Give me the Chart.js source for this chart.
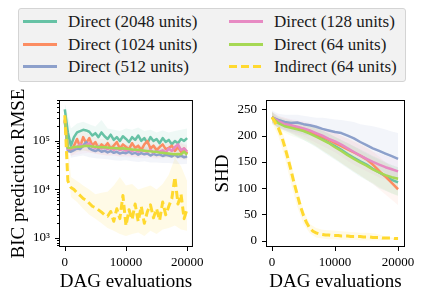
<!DOCTYPE html>
<html>
<head>
<meta charset="utf-8">
<script src="https://cdn.jsdelivr.net/npm/chart.js@4.4.0/dist/chart.umd.min.js"></script>
<style>
  body { margin: 0; width: 424px; height: 299px; background: #fff; position: relative; overflow: hidden; font-family: "Liberation Serif", serif; }
  .wrap { position: absolute; top: 80px; width: 212px; height: 219px; }
  #legend { position: absolute; left: 18px; top: 8px; width: 386px; height: 72px; background: #f2f2f2; border: 1px solid #d4d4d4; border-radius: 3px; z-index: 5; }
  .item { position: absolute; height: 22px; }
  .swatch { position: absolute; top: 9px; width: 34px; height: 3px; }
  .label { position: absolute; left: 45px; top: 0; font-size: 17px; line-height: 22px; color: #1a1a1a; white-space: nowrap; }
</style>
</head>
<body>
<div id="legend"></div>
<div class="wrap" style="left:0"><canvas id="rmse" width="212" height="219"></canvas></div>
<div class="wrap" style="left:212px"><canvas id="shd" width="212" height="219"></canvas></div>
<script>
const seriesNames = ['Direct (2048 units)', 'Direct (1024 units)', 'Direct (512 units)', 'Direct (128 units)', 'Direct (64 units)', 'Indirect (64 units)'];
const seriesColors = ['#66c2a5', '#fc8d62', '#8da0cb', '#e78ac3', '#a6d854', '#ffd92f'];
const bandColors = ['rgba(102,194,165,0.10)', 'rgba(252,141,98,0.08)', 'rgba(141,160,203,0.10)', 'rgba(231,138,195,0.08)', 'rgba(166,216,84,0.08)', 'rgba(255,217,47,0.12)'];

const evalsFine = [0,500,1000,1500,2000,2500,3000,3500,4000,4500,5000,5500,6000,6500,7000,7500,8000,8500,9000,9500,10000,10500,11000,11500,12000,12500,13000,13500,14000,14500,15000,15500,16000,16500,17000,17500,18000,18500,19000,19500,20000];
const evalsCoarse = [0,1000,2000,3000,4000,5000,6000,7000,8000,9000,10000,11000,12000,13000,14000,15000,16000,17000,18000,19000,20000];
const evalTicks = [0, 10000, 20000];
const shdTicks = [0, 50, 100, 150, 200, 250];

// BIC prediction RMSE (means, every 500 evaluations)
const rmseTeal = [450000,150000,80000,120000,150000,160000,170000,165000,155000,130000,145000,120000,150000,125000,110000,135000,105000,120000,100000,125000,110000,95000,120000,105000,130000,100000,115000,90000,120000,100000,110000,90000,115000,95000,105000,85000,100000,90000,110000,100000,115000];
const rmseOrange = [280000,70000,65000,80000,110000,75000,120000,90000,115000,80000,95000,70000,85000,75000,90000,70000,80000,95000,70000,85000,75000,68000,90000,72000,80000,65000,85000,100000,70000,80000,65000,75000,85000,68000,72000,80000,62000,75000,60000,70000,55000];
const rmseBlue = [250000,62000,60000,65000,70000,68000,80000,95000,70000,65000,62000,66000,60000,63000,58000,62000,57000,60000,55000,58000,56000,60000,54000,57000,52000,56000,53000,55000,50000,54000,51000,53000,49000,52000,50000,48000,52000,47000,50000,46000,48000];
const rmsePink = [260000,68000,70000,72000,75000,85000,78000,82000,90000,75000,72000,78000,70000,74000,68000,72000,66000,70000,65000,68000,63000,67000,62000,66000,60000,64000,62000,60000,65000,58000,62000,60000,64000,58000,70000,62000,75000,85000,65000,70000,60000];
const rmseGreen = [270000,72000,72000,74000,76000,76000,78000,80000,79000,77000,76000,75000,74000,74000,73000,72000,72000,71000,70000,71000,69000,68000,67000,66000,66000,64000,63000,62000,61000,60000,60000,58000,57000,56000,55000,54000,53000,54000,53000,60000,52000];
const rmseYellow = [340000,15000,11000,10000,8500,7500,6500,6000,5200,4500,4200,3800,3400,3000,2800,3500,2200,4000,2500,7500,1800,3800,2400,5000,2200,4500,2000,3500,4800,2600,4000,2300,5500,3000,4500,6500,18000,5000,8000,2500,4000];

// RMSE spread (every 1000 evaluations)
const rmseTealHi = [600000,180000,230000,250000,220000,200000,270000,180000,170000,160000,180000,170000,190000,160000,170000,150000,165000,150000,160000,170000,180000];
const rmseTealLo = [200000,60000,90000,100000,95000,85000,80000,75000,70000,70000,72000,68000,70000,65000,68000,65000,66000,62000,60000,65000,70000];
const rmseOrangeHi = [300000,95000,150000,160000,140000,120000,110000,115000,120000,110000,100000,115000,105000,125000,110000,100000,110000,105000,95000,90000,80000];
const rmseOrangeLo = [200000,48000,60000,65000,58000,55000,52000,50000,52000,48000,50000,48000,46000,50000,47000,45000,48000,46000,44000,42000,40000];
const rmseBlueHi = [300000,85000,95000,115000,100000,90000,85000,80000,82000,78000,80000,76000,75000,74000,72000,73000,70000,70000,72000,68000,66000];
const rmseBlueLo = [180000,45000,48000,50000,46000,44000,43000,42000,40000,39000,40000,38000,37000,38000,36000,36000,35000,35000,34000,33000,34000];
const rmsePinkHi = [300000,90000,100000,105000,115000,95000,92000,90000,88000,85000,84000,82000,80000,82000,85000,80000,84000,90000,110000,95000,85000];
const rmsePinkLo = [190000,50000,52000,55000,58000,54000,52000,50000,49000,48000,46000,46000,45000,44000,45000,43000,44000,46000,50000,46000,42000];
const rmseGreenHi = [300000,88000,92000,96000,95000,92000,90000,88000,87000,86000,84000,82000,80000,78000,76000,74000,72000,70000,68000,72000,68000];
const rmseGreenLo = [200000,58000,60000,62000,62000,61000,60000,59000,58000,57000,56000,55000,53000,52000,50000,48000,46000,45000,44000,46000,42000];
const rmseYellowHi = [450000,18000,15000,12000,10000,8000,8500,9000,12000,18000,12000,13000,10000,11000,12000,10000,13000,20000,45000,30000,15000];
const rmseYellowLo = [250000,7000,5500,4000,3000,2500,2000,1600,1400,1200,1100,1200,1300,1100,1400,1200,1500,1600,1800,1500,1400];

// SHD (means, every 1000 evaluations; indirect every 500)
const shdTeal = [235,226,222,218,214,211,206,200,194,187,180,173,165,158,151,145,137,130,123,116,111];
const shdOrange = [235,227,223,219,215,212,208,203,198,192,186,180,174,168,162,155,145,133,122,110,98];
const shdBlue = [235,230,226,224,225,222,220,217,213,210,207,205,200,195,188,182,176,171,166,161,156];
const shdPink = [235,228,222,220,217,214,210,205,200,194,189,183,176,169,162,156,150,145,140,136,132];
const shdGreen = [235,224,218,215,212,209,204,198,192,186,178,171,163,156,149,143,136,130,125,121,118];
const shdYellow = [235,225,215,200,180,158,135,110,88,66,48,34,24,18,15,13,12,11,11,10,10,10,9,9,9,8,8,8,8,7,7,7,6,6,6,5,5,5,5,4,4];

// SHD spread (every 1000 evaluations)
const shdTealHi = [245,236,232,230,226,224,220,215,210,204,198,192,186,180,174,168,162,156,150,144,140];
const shdTealLo = [225,214,210,204,198,192,185,178,170,162,154,146,138,130,122,115,108,100,95,90,85];
const shdOrangeHi = [245,237,234,230,228,226,222,218,214,210,205,200,195,190,185,178,170,160,150,140,130];
const shdOrangeLo = [225,215,210,205,200,194,188,180,172,164,156,148,140,132,124,116,108,98,88,78,68];
const shdBlueHi = [248,242,240,240,240,238,236,234,234,233,231,230,228,226,222,220,218,215,212,208,205];
const shdBlueLo = [222,216,212,208,206,202,200,196,190,186,182,178,172,165,158,150,142,135,128,120,112];
const shdPinkHi = [245,238,234,232,230,228,225,220,216,212,206,200,194,188,182,176,170,166,162,158,155];
const shdPinkLo = [225,216,210,206,202,198,192,186,180,174,168,160,152,144,138,132,126,120,116,112,108];
const shdGreenHi = [245,234,230,228,225,222,218,214,210,204,198,192,186,180,173,166,160,154,148,144,140];
const shdGreenLo = [225,212,206,200,196,192,186,180,172,164,156,148,140,132,124,116,110,102,96,90,86];
const shdYellowHi = [245,228,195,150,100,58,32,24,21,20,19,18,17,16,15,15,14,12,8,6,6];
const shdYellowLo = [225,200,160,110,65,32,14,6,4,3,3,2,2,2,1,1,1,1,2,3,3];

function pts(xs, ys) {
    return xs.map((x, i) => ({ x: x, y: ys[i] }));
}

function band(xs, hi, lo, color) {
    return [
        { data: pts(xs, hi), borderWidth: 0, pointRadius: 0, fill: false, order: 20 },
        { data: pts(xs, lo), borderWidth: 0, pointRadius: 0, fill: '-1', backgroundColor: color, order: 20 }
    ];
}

function line(xs, ys, i) {
    const ds = {
        data: pts(xs, ys),
        borderColor: seriesColors[i],
        borderWidth: 2.5,
        pointRadius: 0,
        fill: false,
        tension: 0,
        borderJoinStyle: 'round',
        order: 6 - i
    };
    if (i === 5) {
        ds.borderDash = [8, 4];
        ds.borderWidth = 3;
    }
    return ds;
}

const sup = { '0': '⁰', '1': '¹', '2': '²', '3': '³', '4': '⁴', '5': '⁵', '6': '⁶', '7': '⁷', '8': '⁸', '9': '⁹' };

// box round the axes and outward tick marks
const frame = {
    id: 'frame',
    afterDraw(chart) {
        const { ctx, chartArea: a, scales } = chart;
        ctx.save();
        ctx.strokeStyle = '#000';
        ctx.lineWidth = 1;
        ctx.strokeRect(a.left + 0.5, a.top + 0.5, a.right - a.left - 1, a.bottom - a.top - 1);
        ctx.beginPath();
        scales.x.ticks.forEach(t => {
            const px = Math.round(scales.x.getPixelForValue(t.value)) + 0.5;
            ctx.moveTo(px, a.bottom);
            ctx.lineTo(px, a.bottom + 4);
        });
        scales.y.ticks.forEach(t => {
            let len = 4;
            if (scales.y.type === 'logarithmic') {
                const e = Math.log10(t.value);
                if (Math.abs(e - Math.round(e)) > 1e-9) len = 2;
            }
            const py = Math.round(scales.y.getPixelForValue(t.value)) + 0.5;
            ctx.moveTo(a.left, py);
            ctx.lineTo(a.left - len, py);
        });
        ctx.stroke();
        ctx.restore();
    }
};

const tickFont = { family: 'Liberation Serif', size: 13 };
const titleFont = { family: 'Liberation Serif', size: 19 };

function xAxis(min, max) {
    return {
        type: 'linear',
        min: min,
        max: max,
        grid: { display: false, drawTicks: false },
        border: { display: false },
        afterBuildTicks: s => { s.ticks = evalTicks.map(v => ({ value: v })); },
        afterFit: s => { s.height = 52; },
        ticks: { font: tickFont, color: '#000', padding: 8, maxRotation: 0, autoSkip: false, callback: v => String(v) },
        title: { display: true, text: 'DAG evaluations', font: titleFont, color: '#000', padding: { top: 0, bottom: 6 } }
    };
}

function makeOptions(yScale, yWidth, rightPad, xMin, xMax) {
    yScale.afterFit = s => { s.width = yWidth; };
    return {
        responsive: false,
        animation: false,
        events: [],
        layout: { padding: { top: 20, right: rightPad, left: 0, bottom: 0 } },
        plugins: { legend: { display: false }, tooltip: { enabled: false } },
        scales: { x: xAxis(xMin, xMax), y: yScale }
    };
}

// left: RMSE
const rmseMeans = [rmseTeal, rmseOrange, rmseBlue, rmsePink, rmseGreen, rmseYellow];
const rmseBands = [[rmseTealHi, rmseTealLo], [rmseOrangeHi, rmseOrangeLo], [rmseBlueHi, rmseBlueLo], [rmsePinkHi, rmsePinkLo], [rmseGreenHi, rmseGreenLo], [rmseYellowHi, rmseYellowLo]];
const rmseSets = [];
rmseBands.forEach((b, i) => rmseSets.push(...band(evalsCoarse, b[0], b[1], bandColors[i])));
rmseMeans.forEach((m, i) => rmseSets.push(line(evalsFine, m, i)));

new Chart(document.getElementById('rmse'), {
    type: 'line',
    data: { datasets: rmseSets },
    options: makeOptions({
        type: 'logarithmic',
        min: 650,
        max: 700000,
        grid: { display: false, drawTicks: false },
        border: { display: false },
        afterBuildTicks: s => {
            s.ticks = s.ticks.filter(t => {
                const m = t.value / Math.pow(10, Math.floor(Math.log10(t.value) + 1e-9));
                return Math.abs(m - Math.round(m)) < 1e-6 && t.value >= s.min && t.value <= s.max;
            });
        },
        ticks: {
            font: tickFont, color: '#000', padding: 9, autoSkip: false,
            callback: v => {
                const e = Math.log10(v);
                if (Math.abs(e - Math.round(e)) > 1e-9) return '';
                return '10' + String(Math.round(e)).split('').map(c => sup[c]).join('');
            }
        },
        title: { display: true, text: 'BIC prediction RMSE', font: titleFont, color: '#000', padding: { top: 8, bottom: 0 } }
    }, 59, 14, -950, 20950),
    plugins: [frame]
});

// right: SHD
const shdMeans = [shdTeal, shdOrange, shdBlue, shdPink, shdGreen];
const shdBands = [[shdTealHi, shdTealLo], [shdOrangeHi, shdOrangeLo], [shdBlueHi, shdBlueLo], [shdPinkHi, shdPinkLo], [shdGreenHi, shdGreenLo], [shdYellowHi, shdYellowLo]];
const shdSets = [];
shdBands.forEach((b, i) => shdSets.push(...band(evalsCoarse, b[0], b[1], bandColors[i])));
shdMeans.forEach((m, i) => shdSets.push(line(evalsCoarse, m, i)));
shdSets.push(line(evalsFine, shdYellow, 5));

new Chart(document.getElementById('shd'), {
    type: 'line',
    data: { datasets: shdSets },
    options: makeOptions({
        type: 'linear',
        min: -12,
        max: 268,
        grid: { display: false, drawTicks: false },
        border: { display: false },
        afterBuildTicks: s => { s.ticks = shdTicks.map(v => ({ value: v })); },
        ticks: { font: tickFont, color: '#000', padding: 9, autoSkip: false },
        title: { display: true, text: 'SHD', font: titleFont, color: '#000', padding: { top: 0, bottom: 0 } }
    }, 54, 19, -950, 21100),
    plugins: [frame]
});

// legend, two columns
const legend = document.getElementById('legend');
seriesNames.forEach((name, i) => {
    const col = i < 3 ? 0 : 1;
    const row = i % 3;
    const item = document.createElement('div');
    item.className = 'item';
    item.style.left = (col === 0 ? 4 : 210) + 'px';
    item.style.top = (2 + row * 22.5) + 'px';

    const sw = document.createElement('div');
    sw.className = 'swatch';
    if (i === 5) {
        sw.style.background = `repeating-linear-gradient(to right, ${seriesColors[i]} 0 8px, transparent 8px 12px)`;
    } else {
        sw.style.background = seriesColors[i];
    }
    const txt = document.createElement('div');
    txt.className = 'label';
    txt.textContent = name;

    item.appendChild(sw);
    item.appendChild(txt);
    legend.appendChild(item);
});
</script>
</body>
</html>
